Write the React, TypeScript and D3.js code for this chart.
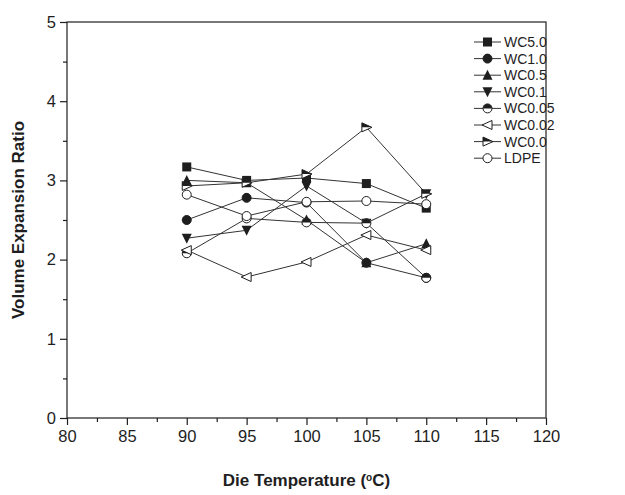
import React, { useRef, useEffect } from 'react';
import * as d3 from 'd3';

// die temperatures (°C)
const temps = [90, 95, 100, 105, 110];

const seriesNames = ['WC5.0', 'WC1.0', 'WC0.5', 'WC0.1', 'WC0.05', 'WC0.02', 'WC0.0', 'LDPE'];
const wc50 = [3.17, 3.0, 3.03, 2.96, 2.65];
const wc10 = [2.5, 2.78, 2.72, 1.96, 1.77];
const wc05 = [3.0, 2.97, 2.5, 1.96, 2.2];
const wc01 = [2.27, 2.37, 2.93, 2.46, 2.83];
const wc005 = [2.08, 2.52, 2.47, 2.46, 1.77];
const wc002 = [2.12, 1.78, 1.97, 2.31, 2.12];
const wc00 = [2.93, 2.97, 3.08, 3.67, 2.83];
const ldpe = [2.82, 2.55, 2.73, 2.74, 2.7];
const seriesValues = [wc50, wc10, wc05, wc01, wc005, wc002, wc00, ldpe];
const markers = ['square', 'circle', 'up', 'down', 'halfcircle', 'left', 'right', 'open'];

const xTicks = [80, 85, 90, 95, 100, 105, 110, 115, 120];
const yTicks = [0, 1, 2, 3, 4, 5];

const W = 625;
const H = 495;
const ink = '#1e1e1e';
const font = '"Liberation Sans", Arial, sans-serif';

const drawMarker = (g: any, kind: string, cx: number, cy: number) => {
  const s = 4.5;
  if (kind === 'square') {
    g.append('rect').attr('x', cx - s).attr('y', cy - s).attr('width', 2 * s).attr('height', 2 * s).attr('fill', ink);
  } else if (kind === 'circle' || kind === 'open') {
    g.append('circle').attr('cx', cx).attr('cy', cy).attr('r', s)
      .attr('fill', kind === 'circle' ? ink : '#fff').attr('stroke', ink).attr('stroke-width', 1);
  } else if (kind === 'halfcircle') {
    g.append('circle').attr('cx', cx).attr('cy', cy).attr('r', s).attr('fill', '#fff').attr('stroke', ink).attr('stroke-width', 1);
    g.append('path').attr('d', `M${cx - s},${cy} A${s},${s} 0 0 1 ${cx + s},${cy} Z`).attr('fill', ink);
  } else if (kind === 'up') {
    g.append('path').attr('d', `M${cx},${cy - s - 1} L${cx + s + 0.5},${cy + s} L${cx - s - 0.5},${cy + s} Z`).attr('fill', ink);
  } else if (kind === 'down') {
    g.append('path').attr('d', `M${cx},${cy + s + 1} L${cx + s + 0.5},${cy - s} L${cx - s - 0.5},${cy - s} Z`).attr('fill', ink);
  } else if (kind === 'left') {
    g.append('path').attr('d', `M${cx - s - 1},${cy} L${cx + s},${cy - s} L${cx + s},${cy + s} Z`)
      .attr('fill', '#fff').attr('stroke', ink).attr('stroke-width', 1);
  } else if (kind === 'right') {
    g.append('path').attr('d', `M${cx + s + 1},${cy} L${cx - s},${cy - s} L${cx - s},${cy + s} Z`)
      .attr('fill', '#fff').attr('stroke', ink).attr('stroke-width', 1);
    g.append('path').attr('d', `M${cx + s + 1},${cy} L${cx - s},${cy - s} L${cx - s},${cy} Z`).attr('fill', ink);
  }
};

const App: React.FC = () => {
  const ref = useRef<SVGSVGElement>(null);

  useEffect(() => {
    const svg = d3.select(ref.current);
    svg.selectAll('*').remove();

    const left = 67, right = 546, top = 22, bottom = 418;
    const x = d3.scaleLinear().domain([80, 120]).range([left, right]);
    const y = d3.scaleLinear().domain([0, 5]).range([bottom, top]);

    // frame
    svg.append('rect').attr('x', left).attr('y', top).attr('width', right - left).attr('height', bottom - top)
      .attr('fill', 'none').attr('stroke', ink).attr('stroke-width', 1.2);

    // x axis
    const xAxis = svg.append('g').attr('transform', `translate(0,${bottom})`)
      .call(d3.axisBottom(x).tickValues(xTicks).tickSize(7).tickSizeOuter(0).tickPadding(5).tickFormat(d3.format('d')) as any);
    xAxis.select('.domain').remove();
    xAxis.selectAll('line').attr('stroke', ink).attr('stroke-width', 1.2);
    xAxis.selectAll('text').attr('font-family', font).attr('font-size', 16.5).attr('fill', ink);
    svg.append('g').attr('transform', `translate(0,${bottom})`)
      .call(d3.axisBottom(x).tickValues(d3.range(82.5, 120, 5)).tickSize(4).tickFormat(() => '') as any)
      .call((g: any) => g.select('.domain').remove())
      .selectAll('line').attr('stroke', ink).attr('stroke-width', 1.2);

    // y axis
    const yAxis = svg.append('g').attr('transform', `translate(${left},0)`)
      .call(d3.axisLeft(y).tickValues(yTicks).tickSize(7).tickSizeOuter(0).tickPadding(4).tickFormat(d3.format('d')) as any);
    yAxis.select('.domain').remove();
    yAxis.selectAll('line').attr('stroke', ink).attr('stroke-width', 1.2);
    yAxis.selectAll('text').attr('font-family', font).attr('font-size', 16.5).attr('fill', ink);
    svg.append('g').attr('transform', `translate(${left},0)`)
      .call(d3.axisLeft(y).tickValues(d3.range(0.5, 5, 1)).tickSize(4).tickFormat(() => '') as any)
      .call((g: any) => g.select('.domain').remove())
      .selectAll('line').attr('stroke', ink).attr('stroke-width', 1.2);

    // axis titles
    svg.append('text').attr('x', (left + right) / 2).attr('y', 486).attr('text-anchor', 'middle')
      .attr('font-family', font).attr('font-size', 17).attr('font-weight', 'bold').attr('fill', ink)
      .text('Die Temperature (')
      .append('tspan').attr('baseline-shift', 'super').attr('font-size', 10).text('o')
      .select(function (this: any) { return this.parentNode; })
      .append('tspan').text('C)');
    svg.append('text').attr('transform', `translate(24,${(top + bottom) / 2}) rotate(-90)`).attr('text-anchor', 'middle')
      .attr('font-family', font).attr('font-size', 17).attr('font-weight', 'bold').attr('fill', ink)
      .text('Volume Expansion Ratio');

    // series
    const line = d3.line<number>().x((_, i) => x(temps[i])).y(d => y(d));
    seriesValues.forEach(vals => {
      svg.append('path').attr('d', line(vals) as string).attr('fill', 'none').attr('stroke', '#333').attr('stroke-width', 1);
    });
    seriesValues.forEach((vals, si) => {
      const g = svg.append('g');
      vals.forEach((v, i) => drawMarker(g, markers[si], x(temps[i]), y(v)));
    });

    // legend
    const lg = svg.append('g');
    seriesNames.forEach((name, i) => {
      const ly = 42 + i * 16.6;
      lg.append('line').attr('x1', 474).attr('x2', 501).attr('y1', ly).attr('y2', ly).attr('stroke', '#333').attr('stroke-width', 1);
      drawMarker(lg, markers[i], 487.5, ly);
      lg.append('text').attr('x', 504).attr('y', ly + 5).attr('font-family', font).attr('font-size', 14).attr('fill', ink).text(name);
    });
  }, []);

  return (
    <svg ref={ref} width={W} height={H} style={{ position: 'absolute', left: 0, top: 0, background: '#fff' }} />
  );
};

export default App;
